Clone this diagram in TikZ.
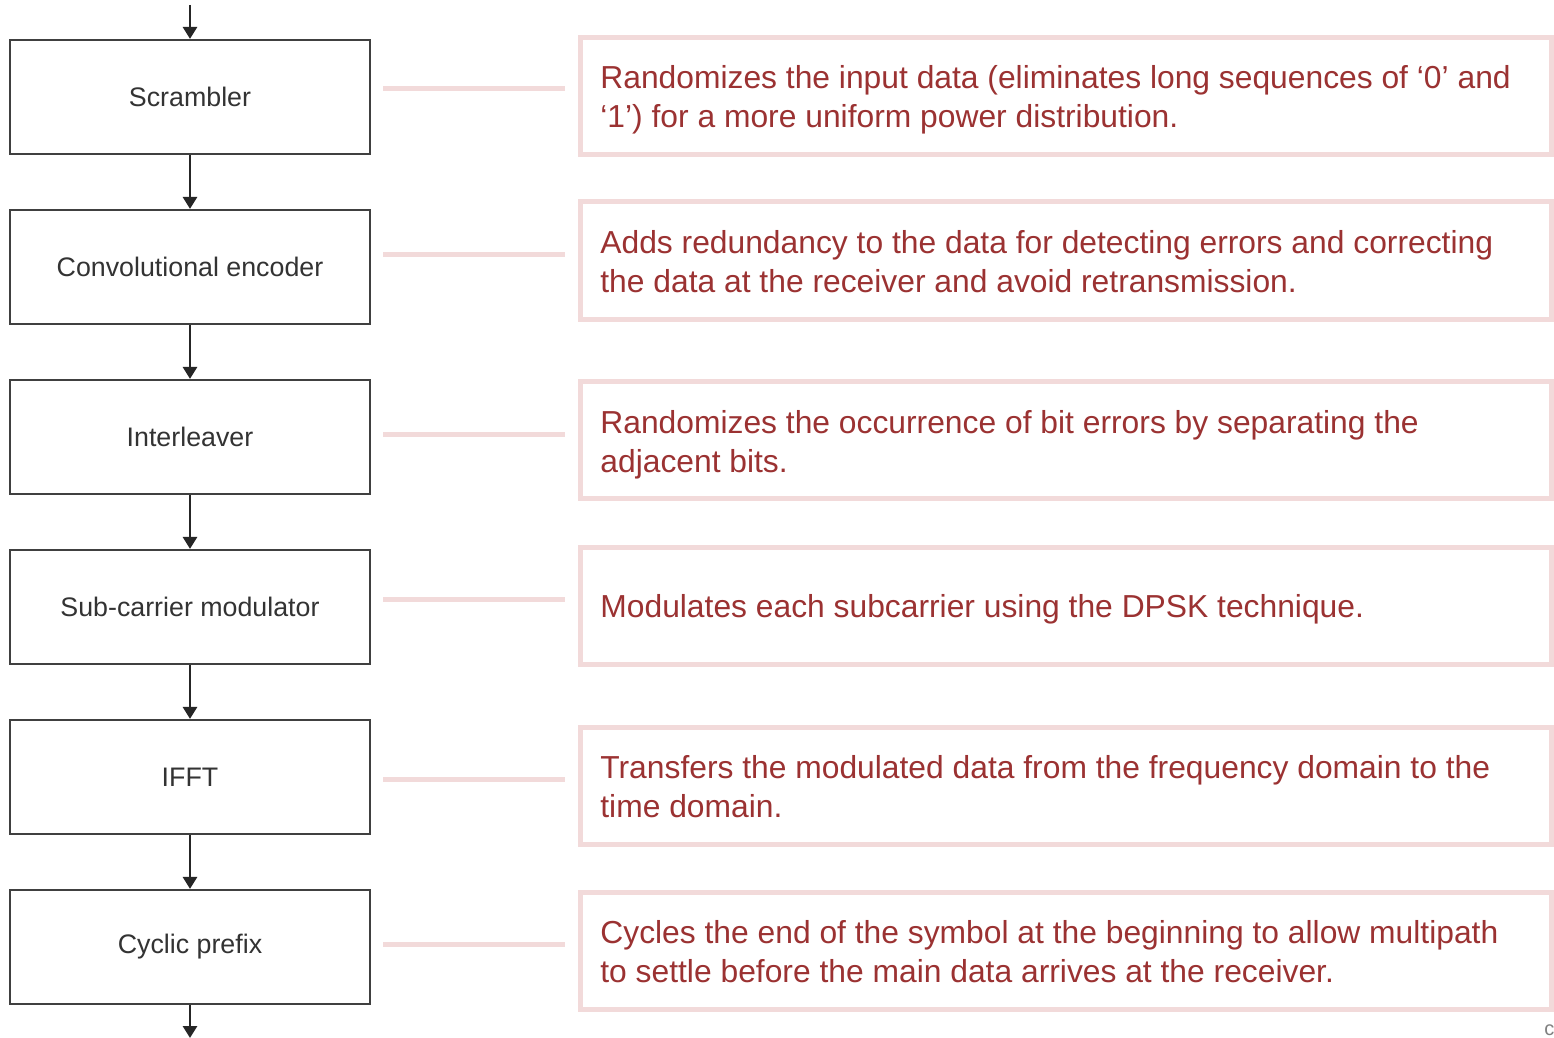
\documentclass[tikz,border=0pt]{standalone}
\usepackage{fontspec}
\setmainfont{Liberation Sans}
\usetikzlibrary{arrows.meta}
\definecolor{desc}{HTML}{9B3232}
\definecolor{pinkline}{HTML}{F2DADA}
\definecolor{boxline}{HTML}{404040}
\definecolor{boxtext}{HTML}{333333}
\begin{document}
\begin{tikzpicture}[x=0.5pt,y=-0.5pt,
  stage/.style={draw=boxline, line width=1.1pt, minimum width=180pt, minimum height=57pt, inner sep=0pt, text=boxtext, font=\fontsize{13.4}{15}\selectfont},
  flow/.style={draw=boxline!60!black, line width=1.4pt, -{Triangle[width=7pt,length=6pt]}},
  descbox/.style={draw=pinkline, line width=2.5pt, minimum width=485.5pt, minimum height=58.5pt, inner sep=0pt},
  desctext/.style={anchor=west, align=left, text=desc, inner sep=0pt, font=\fontsize{15.9}{19.5}\selectfont},
  link/.style={draw=pinkline, line width=2.5pt}]
\useasboundingbox (0,0) rectangle (1554,1038);
\fill[white] (0,0) rectangle (1554,1038);

% left chain
\node[stage] (s1) at (190,97) {Scrambler};
\node[stage] (s2) at (190,267) {Convolutional encoder};
\node[stage] (s3) at (190,437) {Interleaver};
\node[stage] (s4) at (190,607) {Sub-carrier modulator};
\node[stage] (s5) at (190,777) {IFFT};
\node[stage] (s6) at (190,947) {Cyclic prefix};

\coordinate (in) at (190,5);
\coordinate (out) at (190,1038);
\draw[flow] (in) -- (s1.north);
\draw[flow] (s1.south) -- (s2.north);
\draw[flow] (s2.south) -- (s3.north);
\draw[flow] (s3.south) -- (s4.north);
\draw[flow] (s4.south) -- (s5.north);
\draw[flow] (s5.south) -- (s6.north);
\draw[flow] (s6.south) -- (out);

% description boxes
\node[descbox] (d1) at (1066,96) {};
\node[descbox] (d2) at (1066,260.5) {};
\node[descbox] (d3) at (1066,440) {};
\node[descbox] (d4) at (1066,605.5) {};
\node[descbox] (d5) at (1066,785.5) {};
\node[descbox] (d6) at (1066,950.5) {};

\node[desctext] (t1) at (600,100) {Randomizes the input data (eliminates long sequences of ‘0’ and\\‘1’) for a more uniform power distribution.};
\node[desctext] (t2) at (600,262) {Adds redundancy to the data for detecting errors and correcting\\the data at the receiver and avoid retransmission.};
\node[desctext] (t3) at (600,445) {Randomizes the occurrence of bit errors by separating the\\adjacent bits.};
\node[desctext] (t4) at (600,609) {Modulates each subcarrier using the DPSK technique.};
\node[desctext] (t5) at (600,787) {Transfers the modulated data from the frequency domain to the\\time domain.};
\node[desctext] (t6) at (600,952) {Cycles the end of the symbol at the beginning to allow multipath\\to settle before the main data arrives at the receiver.};

% links
\coordinate (a1) at (383,89);  \coordinate (b1) at (565,89);
\coordinate (a2) at (383,254); \coordinate (b2) at (565,254);
\coordinate (a3) at (383,434); \coordinate (b3) at (565,434);
\coordinate (a4) at (383,599); \coordinate (b4) at (565,599);
\coordinate (a5) at (383,779); \coordinate (b5) at (565,779);
\coordinate (a6) at (383,944); \coordinate (b6) at (565,944);
\draw[link] (a1) -- (b1);
\draw[link] (a2) -- (b2);
\draw[link] (a3) -- (b3);
\draw[link] (a4) -- (b4);
\draw[link] (a5) -- (b5);
\draw[link] (a6) -- (b6);

\node[anchor=west, inner sep=0pt, text=gray, font=\fontsize{10}{12}\selectfont] (wm) at (1544,1030) {c};
\end{tikzpicture}
\end{document}
